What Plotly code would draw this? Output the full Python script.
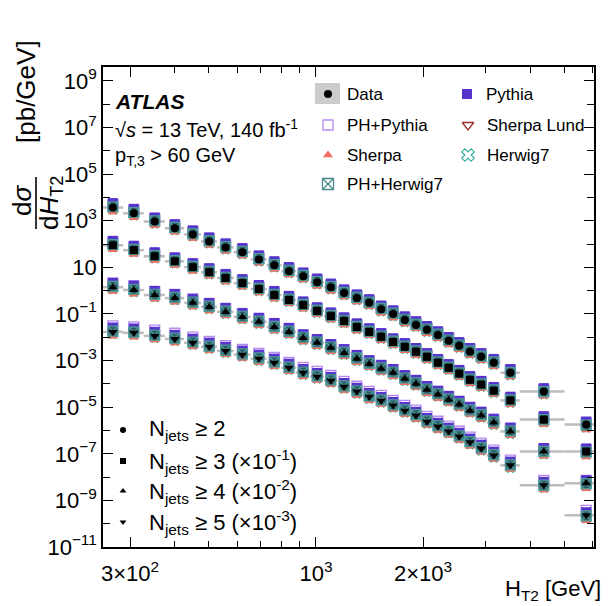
import plotly.graph_objects as go

# ---------------- data ----------------
ht2_edges = [250, 287, 328, 376, 426, 475, 527, 587, 655, 727, 800, 879, 962, 1053,
             1149, 1250, 1356, 1466, 1584, 1711, 1843, 1978, 2124, 2280, 2441, 2613,
             2806, 3022, 3300, 3740, 5000, 6500]

njet_labels = ["N<sub>jets</sub> ≥ 2", "N<sub>jets</sub> ≥ 3 (×10<sup>-1</sup>)",
               "N<sub>jets</sub> ≥ 4 (×10<sup>-2</sup>)", "N<sub>jets</sub> ≥ 5 (×10<sup>-3</sup>)"]
scale_factors = [1.0, 1e-1, 1e-2, 1e-3]
data_symbols = ["circle", "square", "triangle-up", "triangle-down"]

# dsigma/dHT2 [pb/GeV], unscaled
xs_nj2 = [3.7e3, 2.1e3, 9.3e2, 4.8e2, 2.6e2, 1.3e2, 72, 45, 22, 12.3, 6.9, 4.2, 2.3, 1.4,
          0.79, 0.48, 0.30, 0.16, 0.10, 0.055, 0.034, 0.021, 0.0126, 7.1e-3, 4.3e-3,
          2.4e-3, 1.45e-3, 8.1e-4, 3.0e-4, 4.7e-5, 1.8e-6]
xs_nj3 = [890, 550, 300, 182, 102, 62, 35, 21, 11.7, 6.5, 4.0, 2.4, 1.35, 0.81, 0.50,
          0.275, 0.17, 0.105, 0.063, 0.039, 0.024, 0.0145, 8.1e-3, 4.9e-3, 2.75e-3,
          1.5e-3, 9.3e-4, 5.1e-4, 1.95e-4, 2.95e-5, 1.26e-6]
xs_nj4 = [141, 107, 65, 48, 30, 20, 12.3, 7.4, 4.6, 2.75, 1.7, 0.93, 0.58, 0.355, 0.214,
          0.12, 0.072, 0.045, 0.030, 0.0166, 0.0102, 5.6e-3, 3.5e-3, 2.1e-3, 1.29e-3,
          7.1e-4, 4.4e-4, 2.2e-4, 9.1e-5, 1.26e-5, 5.5e-7]
xs_nj5 = [17, 15.5, 11.5, 8.5, 5.8, 3.9, 2.6, 1.8, 1.2, 0.81, 0.49, 0.30, 0.204, 0.138,
          0.076, 0.047, 0.028, 0.019, 0.0117, 7.1e-3, 4.4e-3, 2.4e-3, 1.48e-3, 9.1e-4,
          5.5e-4, 3.1e-4, 1.7e-4, 8.5e-5, 3.2e-5, 4.5e-6, 2.3e-7]
data_series = [xs_nj2, xs_nj3, xs_nj4, xs_nj5]

# MC / data ratios
ratio_pythia = [1.55, 1.55, 1.5, 1.5, 1.5, 1.5, 1.5, 1.5, 1.5, 1.5, 1.5, 1.45, 1.45, 1.45, 1.45,
                1.45, 1.45, 1.45, 1.45, 1.45, 1.45, 1.45, 1.45, 1.45, 1.45, 1.45, 1.45, 1.45,
                1.45, 1.4, 1.35]
ratio_phpythia = [1.35, 1.35, 1.3, 1.3, 1.3, 1.25, 1.25, 1.25, 1.25, 1.25, 1.25, 1.25, 1.25,
                  1.25, 1.25, 1.25, 1.25, 1.25, 1.25, 1.25, 1.25, 1.25, 1.25, 1.25, 1.25,
                  1.25, 1.25, 1.25, 1.25, 1.2, 1.2]
ratio_sherpalund = [0.9, 0.9, 0.9, 0.9, 0.9, 0.9, 0.9, 0.9, 0.9, 0.9, 0.9, 0.9, 0.9, 0.9, 0.9,
                    0.9, 0.9, 0.9, 0.9, 0.9, 0.9, 0.9, 0.9, 0.9, 0.9, 0.9, 0.9, 0.9, 0.9,
                    0.85, 0.8]
ratio_sherpa = [0.65, 0.65, 0.66, 0.67, 0.67, 0.68, 0.68, 0.68, 0.68, 0.68, 0.68, 0.68, 0.68,
                0.68, 0.68, 0.68, 0.68, 0.68, 0.68, 0.68, 0.68, 0.68, 0.68, 0.68, 0.68, 0.68,
                0.68, 0.68, 0.66, 0.62, 0.58]
ratio_herwig7 = [0.86, 0.86, 0.86, 0.86, 0.86, 0.86, 0.86, 0.86, 0.86, 0.86, 0.86, 0.86, 0.86,
                 0.86, 0.86, 0.86, 0.86, 0.86, 0.86, 0.86, 0.86, 0.86, 0.86, 0.86, 0.86, 0.86,
                 0.85, 0.84, 0.82, 0.8, 0.78]
ratio_phherwig7 = [1.08, 1.08, 1.08, 1.08, 1.08, 1.08, 1.08, 1.08, 1.08, 1.08, 1.08, 1.08, 1.08,
                   1.08, 1.08, 1.08, 1.08, 1.08, 1.08, 1.08, 1.08, 1.08, 1.08, 1.08, 1.08, 1.08,
                   1.08, 1.08, 1.05, 1.0, 0.95]
# per-multiplicity adjustment of the PH+Pythia prediction (higher for >=5 jets)
phpythia_nj_factor = [1.0, 1.0, 1.1, 1.35]

# ---------------- styling ----------------
FONT = "Liberation Sans, Arial, Helvetica, sans-serif"
PAGE_OFF = 8                       # default body margin of the html page
W, H = 609 - PAGE_OFF, 606 - PAGE_OFF
L, R, T, B = 103, 594, 67, 547     # plot area in screen pixels


def fx(px):
    return (px - L) / (R - L)


def fy(py):
    return (B - py) / (B - T)


models = [
    ("Herwig7", ratio_herwig7, "x-open", "#3AADA2", "#3AADA2", 9, 1.1),
    ("Sherpa Lund", ratio_sherpalund, "triangle-down-open", "#9B2D2D", "#9B2D2D", 9, 1.3),
    ("Sherpa", ratio_sherpa, "triangle-up", "#F4705E", "#F4705E", 9, 0),
    ("PH+Pythia", ratio_phpythia, "square-open", "#B888F0", "#B888F0", 10, 1.3),
    ("Pythia", ratio_pythia, "square", "#5533CC", "#5533CC", 10, 0),
    ("PH+Herwig7", ratio_phherwig7, "square-x", "#2E5F66", "#4E9A9A", 10, 1.2),
]

centers = [(ht2_edges[i] + ht2_edges[i + 1]) / 2 for i in range(len(ht2_edges) - 1)]
halfw = [(ht2_edges[i + 1] - ht2_edges[i]) / 2 for i in range(len(ht2_edges) - 1)]

fig = go.Figure()

# data uncertainty bands (grey, bin width)
for k, series in enumerate(data_series):
    yv = [v * scale_factors[k] for v in series]
    fig.add_trace(go.Scatter(
        x=centers, y=yv, mode="markers",
        marker=dict(size=1, color="rgba(0,0,0,0)"),
        error_x=dict(type="data", array=halfw, arrayminus=halfw, color="#BDBDBD",
                     thickness=2.5, width=0),
        showlegend=False, hoverinfo="skip"))

# MC predictions
for name, ratios, sym, col, lcol, size, lw in models:
    for k, series in enumerate(data_series):
        f = phpythia_nj_factor[k] if name == "PH+Pythia" else 1.0
        yv = [v * scale_factors[k] * r * f for v, r in zip(series, ratios)]
        fig.add_trace(go.Scatter(
            x=centers, y=yv, mode="markers", name=name,
            marker=dict(symbol=sym, size=size, color=col,
                        line=dict(color=lcol, width=lw)),
            showlegend=False))

# data
for k, series in enumerate(data_series):
    yv = [v * scale_factors[k] for v in series]
    fig.add_trace(go.Scatter(
        x=centers, y=yv, mode="markers", name="Data",
        marker=dict(symbol=data_symbols[k], size=8, color="black"),
        showlegend=False))

# ---------------- legend (drawn on an overlay axis in plot-area fractions) ----------------
legend_items = [
    ("Data", 328, 94, "circle", "black", "black", 8, 0),
    ("PH+Pythia", 328, 125, "square-open", "#B888F0", "#B888F0", 10, 1.3),
    ("Sherpa", 328, 155, "triangle-up", "#F4705E", "#F4705E", 9, 0),
    ("PH+Herwig7", 328, 184, "square-x-open", "#4E8A8A", "#4E8A8A", 11, 1.3),
    ("Pythia", 467, 94, "square", "#5533CC", "#5533CC", 10, 0),
    ("Sherpa Lund", 468, 125, "triangle-down-open", "#9B2D2D", "#9B2D2D", 10, 1.3),
    ("Herwig7", 468, 155, "x-open", "#3AADA2", "#3AADA2", 11, 1.2),
]
annotations = []
shapes = []
shapes.append(dict(type="rect", xref="paper", yref="paper", x0=fx(315), x1=fx(340),
                   y0=fy(104), y1=fy(83), fillcolor="#CCCCCC", line=dict(width=0),
                   layer="below"))
for name, px, py, sym, col, lcol, size, lw in legend_items:
    fig.add_trace(go.Scatter(
        x=[fx(px)], y=[fy(py)], xaxis="x2", yaxis="y2", mode="markers",
        marker=dict(symbol=sym, size=size, color=col, line=dict(color=lcol, width=lw)),
        showlegend=False, hoverinfo="skip", cliponaxis=False))
    annotations.append(dict(x=fx(px + 17), y=fy(py), xref="paper", yref="paper",
                            text=name, showarrow=False, xanchor="left", yanchor="middle",
                            font=dict(size=17, family=FONT, color="black")))

njet_rows = [430, 461, 491, 522]
for k in range(4):
    fig.add_trace(go.Scatter(
        x=[fx(123)], y=[fy(njet_rows[k])], xaxis="x2", yaxis="y2", mode="markers",
        marker=dict(symbol=data_symbols[k], size=6, color="black"),
        showlegend=False, hoverinfo="skip"))
    annotations.append(dict(x=fx(147), y=fy(njet_rows[k]), xref="paper", yref="paper",
                            text=njet_labels[k], showarrow=False, xanchor="left",
                            yanchor="middle",
                            font=dict(size=22, family=FONT, color="black")))

# ATLAS labels
annotations += [
    dict(x=fx(113), y=fy(102), xref="paper", yref="paper", text="<b><i>ATLAS</i></b>",
         showarrow=False, xanchor="left", yanchor="middle",
         font=dict(size=21, family=FONT, color="black")),
    dict(x=fx(113), y=fy(128), xref="paper", yref="paper",
         text="√<i>s</i> = 13 TeV, 140 fb<sup>-1</sup>",
         showarrow=False, xanchor="left", yanchor="middle",
         font=dict(size=20, family=FONT, color="black")),
    dict(x=fx(113), y=fy(156), xref="paper", yref="paper",
         text="p<sub>T,3</sub> > 60 GeV",
         showarrow=False, xanchor="left", yanchor="middle",
         font=dict(size=20, family=FONT, color="black")),
]

# axis titles
annotations += [
    dict(x=fx(603), y=fy(590), xref="paper", yref="paper", text="H<sub>T2</sub> [GeV]",
         showarrow=False, xanchor="right", yanchor="middle",
         font=dict(size=22, family=FONT, color="black")),
    dict(x=fx(22), y=fy(201), xref="paper", yref="paper", text="d<i>σ</i>",
         textangle=-90, showarrow=False, xanchor="center", yanchor="middle",
         font=dict(size=26, family=FONT, color="black")),
    dict(x=fx(50), y=fy(203), xref="paper", yref="paper", text="d<i>H</i><sub>T2</sub>",
         textangle=-90, showarrow=False, xanchor="center", yanchor="middle",
         font=dict(size=26, family=FONT, color="black")),
    dict(x=fx(26), y=fy(92), xref="paper", yref="paper", text="[pb/GeV]",
         textangle=-90, showarrow=False, xanchor="center", yanchor="middle",
         font=dict(size=26, family=FONT, color="black")),
]
shapes.append(dict(type="line", xref="paper", yref="paper", x0=fx(36), x1=fx(36),
                   y0=fy(177), y1=fy(229), line=dict(color="black", width=1.6)))

# ---------------- axes ----------------
y_major_exps = [-11, -9, -7, -5, -3, -1, 1, 3, 5, 7, 9]
y_minor_exps = [-10, -8, -6, -4, -2, 0, 2, 4, 6, 8]


def ylab(e):
    if e == 1:
        return "10"
    return "10<sup>%s</sup>" % (str(e).replace("-", "−"))


y_tickvals = [10.0 ** e for e in y_major_exps]
y_ticktext = [ylab(e) for e in y_major_exps]
y_minorvals = [10.0 ** e for e in y_minor_exps]

x_major = [300, 1000, 2000]
x_major_text = ["3×10<sup>2</sup>", "10<sup>3</sup>", "2×10<sup>3</sup>"]
x_minor = [400, 500, 600, 700, 800, 900, 3000, 4000, 5000, 6000]

fig.update_layout(
    width=W, height=H,
    margin=dict(l=L - PAGE_OFF, r=W - (R - PAGE_OFF), t=T - PAGE_OFF,
                b=H - (B - PAGE_OFF), autoexpand=False),
    paper_bgcolor="white", plot_bgcolor="white",
    font=dict(family=FONT, color="black"),
    showlegend=False,
    xaxis=dict(type="log", range=[2.4012, 3.7816], showgrid=False, zeroline=False,
               showline=True, linecolor="black", linewidth=1.5, mirror="ticks",
               ticks="inside", ticklen=10, tickwidth=1.2, tickcolor="black",
               tickmode="array", tickvals=x_major, ticktext=x_major_text,
               tickfont=dict(size=22, family=FONT), ticklabelstandoff=6,
               minor=dict(tickmode="array", tickvals=x_minor, ticks="inside",
                          ticklen=6, tickwidth=1.2, tickcolor="black", showgrid=False)),
    yaxis=dict(type="log", range=[-11, 9.6], showgrid=False, zeroline=False,
               showline=True, linecolor="black", linewidth=1.5, mirror="ticks",
               ticks="inside", ticklen=10, tickwidth=1.2, tickcolor="black",
               tickmode="array", tickvals=y_tickvals, ticktext=y_ticktext,
               tickfont=dict(size=22, family=FONT),
               minor=dict(tickmode="array", tickvals=y_minorvals, ticks="inside",
                          ticklen=7, tickwidth=1.2, tickcolor="black", showgrid=False)),
    xaxis2=dict(overlaying="x", range=[0, 1], visible=False, anchor="y2"),
    yaxis2=dict(overlaying="y", range=[0, 1], visible=False, anchor="x2"),
    annotations=annotations,
    shapes=shapes,
)

fig.write_html("out.html")
